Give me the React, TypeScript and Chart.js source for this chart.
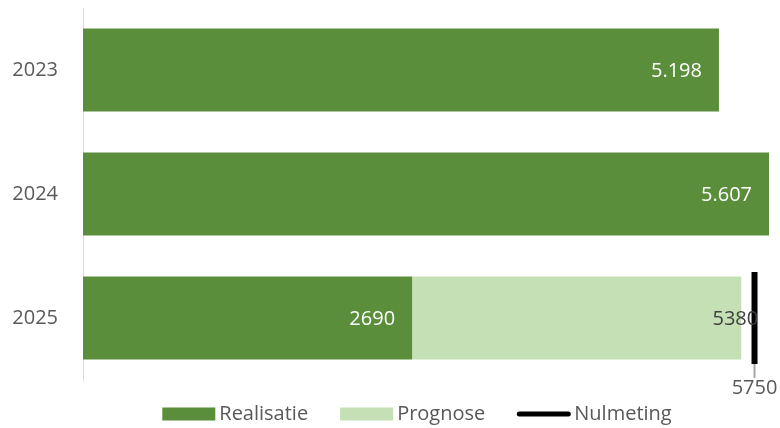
import React, { useEffect, useRef } from "react";
import { Chart, registerables } from "chart.js";

Chart.register(...registerables);

const categories = ["2023", "2024", "2025"];
const realisatie = [5198, 5607, 2690];
const prognose = [0, 0, 2690];
const nulmeting = [null, null, 5750];
const realisatieLabels = ["5.198", "5.607", "2690"];
const prognoseLabels = ["", "", "5380"];
const nulmetingLabels = ["", "", "5750"];
const xMax = 5607;
const x2Max = 5874;

const FONT = "'Open Sans', 'DejaVu Sans', sans-serif";
const DARK = "#5B8E3A";
const LIGHT = "#C5E0B4";
const TEXT = "#595959";

const labelPlugin = {
  id: "labels",
  afterDatasetsDraw(chart: any) {
    const ctx = chart.ctx;
    ctx.save();
    ctx.font = `20px ${FONT}`;
    ctx.textBaseline = "middle";
    const m0 = chart.getDatasetMeta(0);
    m0.data.forEach((el: any, i: number) => {
      const t = realisatieLabels[i];
      if (!t) return;
      ctx.fillStyle = "#ffffff";
      ctx.textAlign = "right";
      ctx.fillText(t, el.x - 17, el.y + 1);
    });
    const m1 = chart.getDatasetMeta(1);
    m1.data.forEach((el: any, i: number) => {
      const t = prognoseLabels[i];
      if (!t) return;
      ctx.fillStyle = "#404040";
      ctx.textAlign = "right";
      ctx.fillText(t, el.x + 17, el.y + 1);
    });
    const m2 = chart.getDatasetMeta(2);
    m2.data.forEach((el: any, i: number) => {
      const t = nulmetingLabels[i];
      if (!t || nulmeting[i] == null) return;
      const bottom = el.y + 46;
      ctx.strokeStyle = "#a6a6a6";
      ctx.lineWidth = 2;
      ctx.beginPath();
      ctx.moveTo(el.x, bottom);
      ctx.lineTo(el.x, bottom + 14);
      ctx.stroke();
      ctx.fillStyle = TEXT;
      ctx.textAlign = "center";
      ctx.fillText(t, el.x, bottom + 24);
    });
    ctx.restore();
  },
};

const legendPlugin = {
  id: "customLegend",
  afterDraw(chart: any) {
    const ctx = chart.ctx;
    ctx.save();
    ctx.font = `20px ${FONT}`;
    ctx.textBaseline = "middle";
    const boxW = 53;
    const gapText = 4;
    const gapItem = 32;
    const items = chart.data.datasets.map((d: any) => d.label);
    const widths = items.map((l: string) => boxW + gapText + ctx.measureText(l).width);
    const total = widths.reduce((a: number, b: number) => a + b, 0) + gapItem * (items.length - 1);
    const cx = (chart.chartArea.left + chart.chartArea.right) / 2 - 9;
    let x = cx - total / 2;
    const y = 414;
    chart.data.datasets.forEach((d: any, i: number) => {
      if (d.type === "line") {
        ctx.strokeStyle = "#000000";
        ctx.lineWidth = 5;
        ctx.lineCap = "round";
        ctx.beginPath();
        ctx.moveTo(x + 2, y);
        ctx.lineTo(x + boxW - 2, y);
        ctx.stroke();
      } else {
        ctx.fillStyle = d.backgroundColor;
        ctx.fillRect(x, y - 6.5, boxW, 13);
      }
      ctx.fillStyle = TEXT;
      ctx.textAlign = "left";
      ctx.fillText(d.label, x + boxW + gapText, y);
      x += widths[i] + gapItem;
    });
    ctx.restore();
  },
};

export default function App() {
  const ref = useRef<HTMLCanvasElement>(null);
  useEffect(() => {
    document.body.style.margin = "0";
    const chart = new Chart(ref.current as HTMLCanvasElement, {
      type: "bar",
      data: {
        labels: categories,
        datasets: [
          {
            label: "Realisatie",
            data: realisatie,
            backgroundColor: DARK,
            stack: "s",
            xAxisID: "x",
          } as any,
          {
            label: "Prognose",
            data: prognose,
            backgroundColor: LIGHT,
            stack: "s",
            xAxisID: "x",
          } as any,
          {
            type: "line",
            label: "Nulmeting",
            data: nulmeting,
            xAxisID: "x2",
            indexAxis: "y",
            showLine: false,
            clip: false,
            pointStyle: "line",
            rotation: 90,
            pointRadius: 46,
            pointHoverRadius: 46,
            pointBorderWidth: 6,
            borderWidth: 6,
            borderColor: "#000000",
            backgroundColor: "#000000",
          } as any,
        ],
      },
      options: {
        indexAxis: "y",
        animation: false,
        responsive: false,
        maintainAspectRatio: false,
        layout: { autoPadding: false, padding: { left: 0, right: 11, top: 8, bottom: 48 } },
        datasets: { bar: { categoryPercentage: 1, barPercentage: 0.67 } } as any,
        plugins: {
          legend: { display: false },
          tooltip: { enabled: false },
        },
        scales: {
          x: { display: false, stacked: true, min: 0, max: xMax },
          x2: { display: false, min: 0, max: x2Max, position: "bottom" },
          y: {
            stacked: true,
            grid: { display: false, drawTicks: false },
            border: { display: true, color: "#d9d9d9", width: 1 },
            ticks: { color: TEXT, font: { family: FONT, size: 20 }, padding: 25 },
            afterFit(scale: any) {
              scale.width = 83;
              scale.paddingTop = 0;
              scale.paddingBottom = 0;
            },
          },
        },
      } as any,
      plugins: [labelPlugin, legendPlugin],
    });
    return () => chart.destroy();
  }, []);
  return (
    <div style={{ width: 780, height: 428 }}>
      <canvas ref={ref} width={780} height={428} style={{ width: 780, height: 428, display: "block" }} />
    </div>
  );
}
